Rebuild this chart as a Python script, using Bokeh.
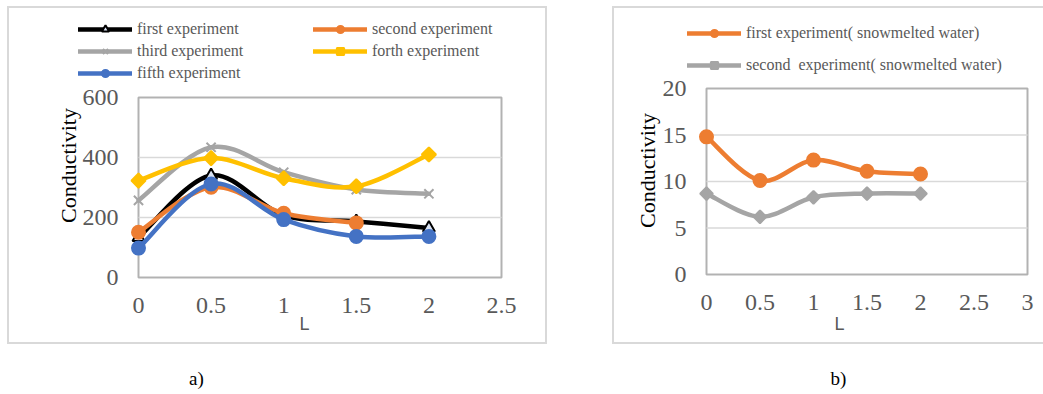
import numpy as np
from bokeh.plotting import figure
from bokeh.layouts import row
from bokeh.models import (Label, BoxAnnotation, Legend, LegendItem, FixedTicker,
                          Range1d, NumeralTickFormatter)
from bokeh.embed import file_html
from bokeh.resources import INLINE

# ---------------- data ----------------
L_a = [0, 0.5, 1, 1.5, 2]
first_a = [133, 340, 207, 187, 165]
second_L = [0, 0.5, 1, 1.5]
second_a = [151, 301, 214, 182]
third_a = [257, 434, 351, 293, 279]
forth_a = [323, 398, 331, 304, 410]
fifth_a = [98, 312, 193, 137, 137]

L_b = [0, 0.5, 1, 1.5, 2]
first_b = [14.8, 10.1, 12.3, 11.1, 10.8]
second_b = [8.7, 6.2, 8.3, 8.7, 8.7]

x_ticks_a = [0, 0.5, 1, 1.5, 2, 2.5]
y_ticks_a = [0, 200, 400, 600]
x_ticks_b = [0, 0.5, 1, 1.5, 2, 2.5, 3]
y_ticks_b = [0, 5, 10, 15, 20]

names_a = ["first experiment", "second experiment", "third experiment",
           "forth experiment", "fifth experiment"]
names_b = ["first experiment( snowmelted water)", "second  experiment( snowmelted water)"]

SERIF = "Liberation Serif"
SANS = "Liberation Sans"
GRAY_TXT = "#595959"
BLACK = "#000000"
ORANGE = "#ED7D31"
GRAY = "#A5A5A5"
YELLOW = "#FFC000"
BLUE = "#4472C4"
BOX = "#D9D9D9"
H = 394


def smooth(x, y):
    """Catmull-Rom style bezier control points (Excel 'smoothed line')."""
    x = np.asarray(x, float)
    y = np.asarray(y, float)
    n = len(x)
    xp = np.concatenate([[x[0]], x, [x[-1]]])
    yp = np.concatenate([[y[0]], y, [y[-1]]])
    cx0 = x[:-1] + (xp[2:n + 1] - xp[0:n - 1]) / 6
    cy0 = y[:-1] + (yp[2:n + 1] - yp[0:n - 1]) / 6
    cx1 = x[1:] - (xp[3:n + 2] - xp[1:n]) / 6
    cy1 = y[1:] - (yp[3:n + 2] - yp[1:n]) / 6
    return dict(x0=x[:-1], y0=y[:-1], x1=x[1:], y1=y[1:],
                cx0=cx0, cy0=cy0, cx1=cx1, cy1=cy1)


def box_css(l, t, w, h, sides="tblr"):
    g = f"linear-gradient({BOX},{BOX})"
    layers = []
    if "t" in sides:
        layers.append(f"{g} {l}px {t}px / {w}px 2px no-repeat")
    if "b" in sides:
        layers.append(f"{g} {l}px {t + h}px / {w}px 2px no-repeat")
    if "l" in sides:
        layers.append(f"{g} {l}px {t}px / 2px {h + 2}px no-repeat")
    if "r" in sides:
        layers.append(f"{g} {l + w}px {t}px / 2px {h + 2}px no-repeat")
    return {"background": ", ".join(layers)}


def make_fig(width, xlim, ylim, px_l, px_r, px_t, px_b, css):
    """Frame fills the whole canvas; the plot box sits at the given pixels."""
    kx = (xlim[1] - xlim[0]) / (px_r - px_l)
    ky = (ylim[1] - ylim[0]) / (px_b - px_t)
    xr = Range1d(xlim[0] - px_l * kx, xlim[1] + (width - px_r) * kx)
    yr = Range1d(ylim[0] - (H - px_b) * ky, ylim[1] + px_t * ky)
    p = figure(width=width, height=H, x_range=xr, y_range=yr,
               output_backend="svg", toolbar_location=None, min_border=0,
               styles=css)
    p.outline_line_color = None
    p.background_fill_alpha = 0
    p.border_fill_alpha = 0
    p.xgrid.visible = False
    p.ygrid.visible = False
    for ax in (p.xaxis[0], p.yaxis[0]):
        ax.fixed_location = 0
        ax.axis_line_color = None
        ax.major_tick_line_color = None
        ax.minor_tick_line_color = None
        ax.major_tick_out = 0
        ax.major_tick_in = 0
        ax.major_label_text_font = SERIF
        ax.major_label_text_font_size = "24px"
        ax.major_label_text_color = GRAY_TXT
        ax.formatter = NumeralTickFormatter(format="0.[0]")
    p.xaxis[0].major_label_standoff = 20
    p.yaxis[0].major_label_standoff = 20
    return p


def frame_box(p, xlim, ylim, yticks):
    inner = [t for t in yticks if ylim[0] < t < ylim[1]]
    p.segment(x0=xlim[0], x1=xlim[1], y0=inner, y1=inner,
              line_color="#D9D9D9", line_width=1.5)
    p.add_layout(BoxAnnotation(left=xlim[0], right=xlim[1], bottom=ylim[0], top=ylim[1],
                               fill_alpha=0, line_color="black", line_width=2,
                               level="underlay"))


def series(p, x, y, color, marker, size, fill=None, lw=4.5):
    d = smooth(x, y)
    r_line = p.bezier(source=d, x0="x0", y0="y0", x1="x1", y1="y1",
                      cx0="cx0", cy0="cy0", cx1="cx1", cy1="cy1",
                      line_color=color, line_width=lw, line_cap="round")
    kw = {}
    if marker == "square":
        kw["angle"] = np.pi / 4
    r_pt = p.scatter(x, y, marker=marker, size=size,
                     fill_color=fill if fill is not None else color,
                     line_color=color, line_width=2, **kw)
    return [r_line, r_pt]


def mk_legend(items, left, top, spacing):
    n = len(items)
    h = n * 18 + (n - 1) * spacing
    return Legend(items=items, location=(left, H - top - h), orientation="vertical",
                  glyph_width=54, glyph_height=18, label_height=18, label_standoff=5,
                  spacing=spacing, padding=0, margin=0,
                  border_line_color=None, background_fill_alpha=0,
                  label_text_font=SERIF, label_text_font_size="16px",
                  label_text_color=GRAY_TXT)


def label(p, x, y, text, font, size, color, angle=0.0):
    p.add_layout(Label(x=x, y=H - y, x_units="screen", y_units="screen", text=text,
                       angle=angle, text_align="center", text_baseline="middle",
                       text_font=font, text_font_size=size, text_color=color))


# ---------------- figure a ----------------
XA, YA = (0, 2.5), (0, 600)
pa = make_fig(578, XA, YA, 138, 501, 97, 277, box_css(7, 6, 538, 336))
pa.xaxis[0].ticker = FixedTicker(ticks=x_ticks_a)
pa.yaxis[0].ticker = FixedTicker(ticks=y_ticks_a)
frame_box(pa, XA, YA, y_ticks_a)

ra1 = series(pa, L_a, first_a, BLACK, "triangle", 12, fill="#DAE3F3")
ra2 = series(pa, second_L, second_a, ORANGE, "circle", 13)
ra3 = series(pa, L_a, third_a, GRAY, "x", 13)
ra4 = series(pa, L_a, forth_a, YELLOW, "square", 10)
ra5 = series(pa, L_a, fifth_a, BLUE, "circle", 13)

pa.add_layout(mk_legend([LegendItem(label=names_a[0], renderers=ra1),
                         LegendItem(label=names_a[2], renderers=ra3),
                         LegendItem(label=names_a[4], renderers=ra5)], 78, 20, 4))
pa.add_layout(mk_legend([LegendItem(label=names_a[1], renderers=ra2),
                         LegendItem(label=names_a[3], renderers=ra4)], 313, 20, 4))

label(pa, 68, 165, "Conductivity", SERIF, "22px", "black", np.pi / 2)
label(pa, 304, 323, "L", SANS, "18px", GRAY_TXT)
label(pa, 196, 378, "a)", SERIF, "19px", "black")

# ---------------- figure b ----------------
OX = 578
XB, YB = (0, 3), (0, 20)
pb = make_fig(465, XB, YB, 706 - OX, 1027 - OX, 88, 274,
              box_css(612 - OX, 6, 500, 336, sides="tbl"))
pb.xaxis[0].ticker = FixedTicker(ticks=x_ticks_b)
pb.yaxis[0].ticker = FixedTicker(ticks=y_ticks_b)
frame_box(pb, XB, YB, y_ticks_b)

rb1 = series(pb, L_b, first_b, ORANGE, "circle", 13)
rb2 = series(pb, L_b, second_b, GRAY, "square", 9)

pb.add_layout(mk_legend([LegendItem(label=names_b[0], renderers=rb1),
                         LegendItem(label=names_b[1], renderers=rb2)], 687 - OX, 24, 14))

label(pb, 647 - OX, 170, "Conductivity", SERIF, "22px", "black", np.pi / 2)
label(pb, 839 - OX, 323, "L", SANS, "18px", GRAY_TXT)
label(pb, 838 - OX, 378, "b)", SERIF, "19px", "black")

layout = row(pa, pb, spacing=0)
open("out.html", "w").write(file_html(layout, INLINE))
